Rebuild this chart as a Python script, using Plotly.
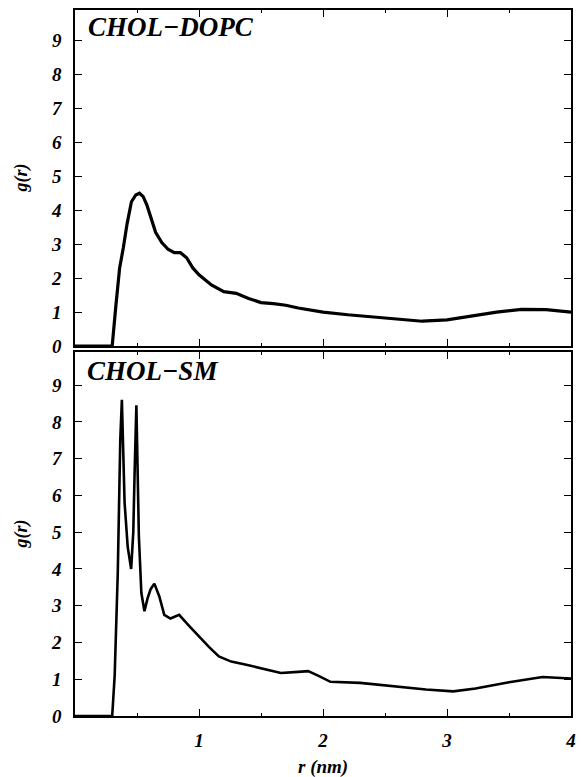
import plotly.graph_objects as go

# ---- data ----
r_dopc = [0.0, 0.30, 0.33, 0.36, 0.39, 0.42, 0.455, 0.49, 0.52, 0.55, 0.58, 0.62, 0.65,
          0.70, 0.75, 0.80, 0.85, 0.90, 0.95, 1.00, 1.05, 1.10, 1.20, 1.30, 1.40, 1.50,
          1.60, 1.70, 1.80, 1.90, 2.00, 2.20, 2.40, 2.60, 2.80, 3.00, 3.20, 3.40, 3.60,
          3.80, 4.00]
g_dopc = [0.0, 0.0, 1.2, 2.3, 2.9, 3.6, 4.25, 4.45, 4.5, 4.4, 4.15, 3.7, 3.35,
          3.05, 2.85, 2.75, 2.75, 2.6, 2.3, 2.1, 1.95, 1.8, 1.6, 1.55, 1.4, 1.28,
          1.25, 1.2, 1.12, 1.05, 1.0, 0.92, 0.85, 0.78, 0.73, 0.77, 0.88, 1.0, 1.08,
          1.07, 1.0]

r_sm = [0.0, 0.30, 0.32, 0.345, 0.365, 0.378, 0.40, 0.425, 0.453, 0.47, 0.482, 0.495,
        0.515, 0.535, 0.56, 0.585, 0.61, 0.64, 0.68, 0.72, 0.77, 0.84, 0.92, 1.00,
        1.08, 1.16, 1.26, 1.40, 1.53, 1.66, 1.80, 1.88, 1.96, 2.06, 2.30, 2.57,
        2.83, 3.05, 3.23, 3.50, 3.77, 4.00]
g_sm = [0.0, 0.0, 1.1, 3.9, 7.5, 8.6, 5.8, 4.6, 4.0, 5.0, 6.8, 8.45,
        4.9, 3.35, 2.85, 3.2, 3.45, 3.6, 3.25, 2.75, 2.65, 2.75, 2.45, 2.15,
        1.88, 1.62, 1.48, 1.38, 1.27, 1.17, 1.2, 1.22, 1.1, 0.93, 0.9, 0.8,
        0.72, 0.67, 0.75, 0.92, 1.06, 1.02]

x_tickvals = [1, 2, 3, 4]
x_minorvals = [0.5, 1.5, 2.5, 3.5]
y_tickvals = [0, 1, 2, 3, 4, 5, 6, 7, 8, 9]
panel_labels = ["CHOL\u2212DOPC", "CHOL\u2212SM"]
x_title = "r (nm)"
y_title = "g(r)"

FAMILY = "Liberation Serif, Times New Roman, serif"
tick_font = dict(family=FAMILY, size=19, color="black", weight="bold", style="italic")

fig = go.Figure()
fig.add_trace(go.Scatter(x=r_dopc, y=g_dopc, mode="lines",
                         line=dict(color="black", width=3.2),
                         xaxis="x", yaxis="y", showlegend=False, hoverinfo="skip"))
fig.add_trace(go.Scatter(x=r_sm, y=g_sm, mode="lines",
                         line=dict(color="black", width=2.6),
                         xaxis="x2", yaxis="y2", showlegend=False, hoverinfo="skip"))

xcommon = dict(range=[0, 4], showline=True, linecolor="black", linewidth=1.5,
               mirror="ticks", ticks="inside", ticklen=7, tickwidth=1, tickcolor="black",
               tickmode="array", tickvals=x_tickvals,
               minor=dict(tickmode="array", tickvals=x_minorvals, ticks="inside",
                          ticklen=3, tickwidth=1, tickcolor="black"),
               showgrid=False, zeroline=False, tickfont=tick_font)
ycommon = dict(range=[0, 9.9], showline=True, linecolor="black", linewidth=1.5,
               mirror="ticks", ticks="inside", ticklen=7, tickwidth=1, tickcolor="black",
               tickmode="array", tickvals=y_tickvals, showgrid=False, zeroline=False,
               tickfont=tick_font, ticklabelstandoff=8)

top_dom = [370 / 706, 1.0]
bot_dom = [0.0, 364 / 706]

fig.update_layout(
    width=581, height=777,
    margin=dict(l=75, r=5, t=10, b=61),
    paper_bgcolor="white", plot_bgcolor="white",
    xaxis=dict(**xcommon, anchor="y", domain=[0, 1], showticklabels=False),
    yaxis=dict(**ycommon, anchor="x", domain=top_dom),
    xaxis2=dict(**xcommon, anchor="y2", domain=[0, 1], showticklabels=True,
                ticklabelstandoff=6),
    yaxis2=dict(**ycommon, anchor="x2", domain=bot_dom),
)

label_font = dict(family=FAMILY, size=27, color="black", weight="bold", style="italic")
title_font = dict(family=FAMILY, size=18, color="black", weight="bold", style="italic")

fig.add_annotation(text=panel_labels[0], xref="x domain", yref="y domain",
                   x=0.022, y=0.949, xanchor="left", yanchor="middle",
                   showarrow=False, font=label_font)
fig.add_annotation(text=panel_labels[1], xref="x2 domain", yref="y2 domain",
                   x=0.02, y=0.948, xanchor="left", yanchor="middle",
                   showarrow=False, font=label_font)

fig.add_annotation(text=y_title, xref="paper", yref="y domain", x=-55 / 501, y=0.5,
                   xanchor="center", yanchor="middle", textangle=-90,
                   showarrow=False, font=title_font)
fig.add_annotation(text=y_title, xref="paper", yref="y2 domain", x=-55 / 501, y=0.5,
                   xanchor="center", yanchor="middle", textangle=-90,
                   showarrow=False, font=title_font)
fig.add_annotation(text=x_title, xref="x2 domain", yref="paper", x=0.5, y=-51 / 706,
                   xanchor="center", yanchor="middle",
                   showarrow=False, font=dict(family=FAMILY, size=19, color="black",
                                              weight="bold", style="italic"))

fig.write_html("out.html",
               config={"displayModeBar": False},
               post_script="document.body.style.margin='0';"
                           "document.body.style.overflow='hidden';")
